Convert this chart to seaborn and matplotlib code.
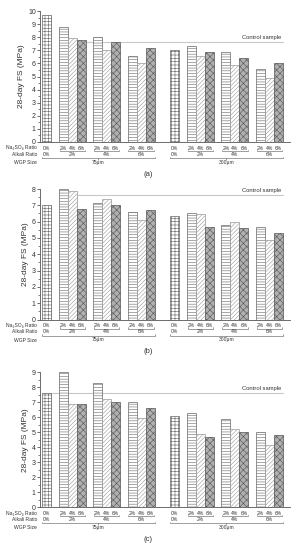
import matplotlib
matplotlib.use('Agg')
import matplotlib.pyplot as plt
import matplotlib.transforms as mtransforms
from matplotlib.ticker import MultipleLocator
import pandas as pd
import seaborn as sns

# data
wgp_sizes = ['75µm', '300µm']
alkali_ratios = ['0%', '2%', '4%', '6%']
na2so4_ratios = ['0%', '2%', '4%', '6%']
fs_a = [9.7, 8.8, 7.95, 7.8, 8.0, 7.0, 7.6, 6.55, 6.0, 7.15,
        7.05, 7.35, 6.6, 6.85, 6.85, 5.85, 6.45, 5.6, 4.85, 6.05]
fs_b = [7.0, 8.0, 7.85, 6.75, 7.15, 7.4, 7.0, 6.62, 6.1, 6.72,
        6.35, 6.5, 6.45, 5.65, 5.8, 6.0, 5.6, 5.7, 4.85, 5.3]
fs_c = [7.6, 9.0, 6.9, 6.9, 8.3, 7.2, 7.05, 7.0, 5.95, 6.6,
        6.1, 6.3, 4.9, 4.68, 5.9, 5.21, 5.03, 5.05, 4.14, 4.8]
control_fs = 7.65
panel_names = ['(a)', '(b)', '(c)']
y_max = [10, 8, 9]

# layout
W, H = 296, 550
size_off = [0, 14.2]
group_off = {'0%': 0, '2%': 1.9, '4%': 5.7, '6%': 9.5}
tops_px = [11, 189, 372.3]
bottoms_px = [142, 319.5, 507.3]
ctrl_start = [1.5, 1.5, -0.5]

hatch_map = {'0%': '+++++', '2%': '------', '4%': '////////', '6%': 'xxxxx'}
face_map = {'0%': 'white', '2%': 'white', '4%': 'white', '6%': '#b0b0b0'}
edge_map = {'0%': '#666666', '2%': '#666666', '4%': '#999999', '6%': '#555555'}
txt_col = '#333333'
line_col = '#555555'

# build bar table
rows = []
for si, size in enumerate(wgp_sizes):
    for alk in alkali_ratios:
        nas = ['0%'] if alk == '0%' else ['2%', '4%', '6%']
        for k, na in enumerate(nas):
            rows.append({'size': size, 'alkali': alk, 'na': na,
                         'pos': size_off[si] + group_off[alk] + k})
base = pd.DataFrame(rows)

sns.set_style('ticks')
plt.rcParams['font.family'] = ['Liberation Sans', 'DejaVu Sans']
plt.rcParams['hatch.linewidth'] = 0.4

fig = plt.figure(figsize=(W / 100, H / 100), dpi=100)

for p, fs in enumerate([fs_a, fs_b, fs_c]):
    df = base.copy()
    df['fs'] = fs
    ax = fig.add_axes([40 / W, 1 - bottoms_px[p] / H, 250 / W,
                       (bottoms_px[p] - tops_px[p]) / H])
    sns.barplot(data=df, x='pos', y='fs', hue='na', hue_order=na2so4_ratios,
                palette=face_map, native_scale=True, dodge=False, width=1.0,
                saturation=1, legend=False, errorbar=None, ax=ax,
                linewidth=0.5, zorder=3)
    for cont, lev in zip(ax.containers, na2so4_ratios):
        for bar in cont:
            bar.set_hatch(hatch_map[lev])
            bar.set_edgecolor(edge_map[lev])

    # control sample line
    ax.plot([ctrl_start[p], 26.2], [control_fs, control_fs], color='#c8c8c8',
            lw=0.8, zorder=1)
    ax.annotate('Control sample', xy=(26.0, control_fs), xytext=(0, 2),
                textcoords='offset pixels', ha='right', va='bottom',
                fontsize=4.2, color=txt_col)

    ax.set_xlim(-0.7, 27.0)
    ax.set_ylim(0, y_max[p])
    ax.set_yticks(range(y_max[p] + 1))
    ax.yaxis.set_minor_locator(MultipleLocator(0.5))
    ax.set_xticks([])
    ax.set_xlabel('')
    ax.set_ylabel('28-day FS (MPa)', fontsize=6, labelpad=2, color=txt_col)
    ax.tick_params(axis='y', labelsize=5, length=2, width=0.5, pad=1,
                   colors=txt_col)
    ax.tick_params(axis='y', which='minor', length=1.2, width=0.4)
    sns.despine(ax=ax)
    for s in ['left', 'bottom']:
        ax.spines[s].set_linewidth(0.6)
        ax.spines[s].set_color(line_col)

    # category table under the axis
    y0 = ax.get_position().y0
    tr = mtransforms.blended_transform_factory(ax.transData, fig.transFigure)

    def ty(dy):
        return y0 - dy / H

    for lab, dy in [('Na₂SO₄ Ratio', 6), ('Alkali Ratio', 12), ('WGP Size', 20.5)]:
        fig.text(37 / W, ty(dy), lab, ha='right', va='center', fontsize=3.6,
                 color=txt_col)
    for _, r in df.iterrows():
        ax.text(r['pos'], ty(6), r['na'], transform=tr, ha='center',
                va='center', fontsize=3.6, color=txt_col)
    for si, size in enumerate(wgp_sizes):
        sub = df[df['size'] == size]
        for alk in alkali_ratios:
            g = sub[sub['alkali'] == alk]['pos']
            if alk == '0%':
                ax.text(g.iloc[0], ty(12), alk, transform=tr, ha='center',
                        va='center', fontsize=3.6, color=txt_col)
                continue
            x0, x1 = g.min() - 0.4, g.max() + 0.4
            ax.plot([x0, x0, x1, x1], [ty(7.5), ty(9), ty(9), ty(7.5)],
                    transform=tr, color=line_col, lw=0.4, clip_on=False)
            ax.text((x0 + x1) / 2, ty(12), alk, transform=tr, ha='center',
                    va='center', fontsize=3.6, color=txt_col)
        x0, x1 = sub['pos'].min() - 0.5, sub['pos'].max() + 0.5
        xm = (x0 + x1) / 2
        ax.plot([x0, x0, x1, x1], [ty(14.5), ty(16), ty(16), ty(14.5)],
                transform=tr, color=line_col, lw=0.4, clip_on=False)
        ax.plot([xm, xm], [ty(16), ty(17.5)], transform=tr, color=line_col,
                lw=0.4, clip_on=False)
        ax.text(xm, ty(20.5), size, transform=tr, ha='center', va='center',
                fontsize=3.6, color=txt_col)

    fig.text(148 / W, ty(32), panel_names[p], ha='center', va='center',
             fontsize=5.5, color=txt_col)

fig.savefig('out.png', dpi=100)
